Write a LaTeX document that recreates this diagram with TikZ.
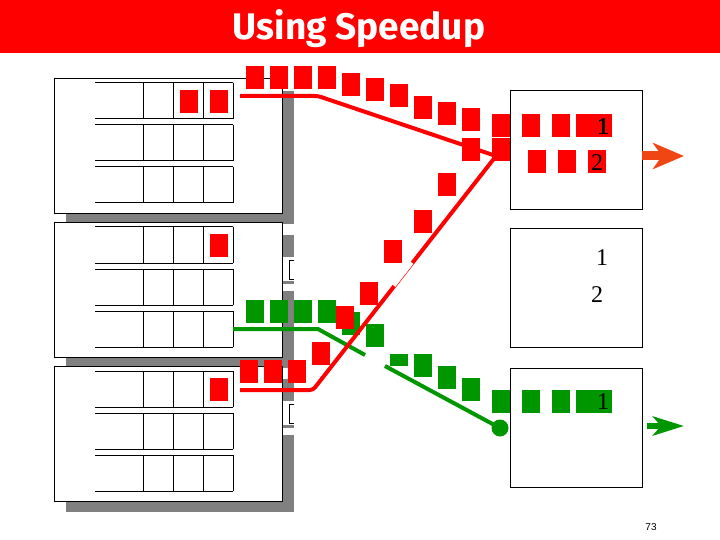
\documentclass[tikz,border=0pt]{standalone}
\usepackage{fontspec}
\setmainfont{Liberation Serif}
\newfontfamily\titlefont{Fira Sans}
\newfontfamily\pagefont{Liberation Sans}
\usetikzlibrary{arrows.meta,positioning}

\definecolor{pktred}{RGB}{255,0,0}
\definecolor{pktgreen}{RGB}{0,150,0}
\definecolor{boardgray}{RGB}{128,128,128}
\definecolor{outarrow}{RGB}{240,70,20}

\newcommand{\pkt}[3][pktred]{\fill[#1] (#2,#3) rectangle ++(18,23);}

\begin{document}
\begin{tikzpicture}[x=1pt,y=-1pt,line width=1pt,
	board/.style={draw,fill=white,minimum width=228pt,minimum height=135pt,inner sep=0pt,anchor=north west},
	outbox/.style={draw,minimum width=132pt,minimum height=119pt,inner sep=0pt},
	digit/.style={font=\fontsize{24}{24}\selectfont,inner sep=0pt},
	redline/.style={draw=pktred,line width=4pt},
	greenline/.style={draw=pktgreen,line width=4pt}]
	\useasboundingbox (0,0) rectangle (720,540);
	\fill[pktred] (0,0) rectangle (720,53);
	\node[text=white,font=\titlefont\fontsize{37}{37}\selectfont\bfseries,anchor=base] (title) at (359,40) {Using Speedup};
	\foreach \t in {78,222,366}
		\fill[boardgray] (66,\t+13) rectangle (294,\t+146);
	\foreach \t in {222,366} {
		\fill[white] (283,\t+35) rectangle (295,\t+69);
		\fill[boardgray] (283,\t+59) rectangle (294,\t+62);
		\draw (294,\t+38) -- (289,\t+38) -- (289,\t+57) -- (294,\t+57);
	}
	\node[board] (b1) at (54,78) {};
	\node[board] (b2) at (54,222) {};
	\node[board] (b3) at (54,366) {};
	\foreach \t in {78,222,366}
		\foreach \r in {0,1,2} {
			\pgfmathsetmacro{\ya}{\t+5+42*\r}
			\pgfmathsetmacro{\yb}{\ya+36}
			\draw (95,\ya) -- (233,\ya) (95,\yb) -- (233,\yb);
			\foreach \c in {143,173,203,233}
				\draw (\c,\ya) -- (\c,\yb);
		}
	\pkt{180}{90} \pkt{210}{90}
	\pkt{210}{234}
	\pkt{210}{378}
	\node[outbox,anchor=north west] (boxA) at (510,90) {};
	\node[outbox] (boxB) [below=18pt of boxA] {};
	\node[outbox] (boxC) [below=20pt of boxB] {};
	\coordinate (g1) at (233,329);
	\coordinate (g2) at (318,329);
	\coordinate (g3) at (365,355);
	\coordinate (g4) at (385,366);
	\coordinate (gend) at (500,428);
	\draw[greenline] (g1) -- (g2) -- (g3);
	\draw[greenline] (g4) -- (gend);
	\fill[pktgreen] (gend) circle (8.5);
	\foreach \x/\y in {246/300,270/300,294/300,318/300,342/312,366/324,414/354,438/366,462/378,492/390,522/390,552/390,576/390,594/390}
		\pkt[pktgreen]{\x}{\y}
	\fill[pktgreen] (390,354) rectangle (408,366);
	\coordinate (r1) at (240,96);
	\coordinate (r2) at (318,96);
	\coordinate (rm) at (496,156);
	\coordinate (r3) at (313,390);
	\coordinate (r4) at (240,390);
	\draw[redline,rounded corners=3pt] (r1) -- (r2) -- (rm) -- (r3) -- (r4);
	\draw[white,line width=6pt] (393,285) -- (411,262);
	\foreach \x/\y in {246/66,270/66,294/66,318/66,342/73,366/78,390/84,414/96,438/102,462/108,462/138,492/114,492/138,438/173,414/210,384/240,360/282,336/306,312/342,240/360,264/360,288/360,522/114,552/114,576/114,594/114,528/150,558/150,588/150}
		\pkt{\x}{\y}
	\node[digit] (a1) at (603,127) {1};
	\node[digit] (a2) at (597,163) {2};
	\node[digit] (c1) at (602,258) {1};
	\node[digit] (c2) at (597,295) {2};
	\node[digit] (d1) at (603,402) {1};
	\coordinate (ra0) at (642,156);
	\coordinate (ra1) at (684,156);
	\coordinate (ga0) at (647,426);
	\coordinate (ga1) at (684,426);
	\draw[outarrow,line width=9pt,-{Stealth[length=31pt,width=26pt,inset=9pt]}] (ra0) -- (ra1);
	\draw[pktgreen,line width=6pt,-{Stealth[length=31pt,width=19pt,inset=8pt]}] (ga0) -- (ga1);
	\node[font=\pagefont\fontsize{10}{10}\selectfont] (pnum) at (651,527) {73};
\end{tikzpicture}
\end{document}
